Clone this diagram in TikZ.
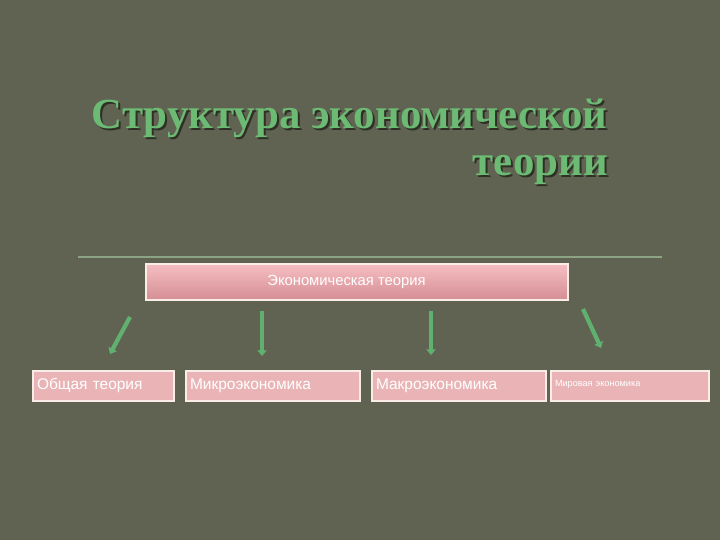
\documentclass[tikz,border=0pt]{standalone}
\usepackage{fontspec}
\setmainfont{Liberation Serif}
\setsansfont{Liberation Sans}
\usetikzlibrary{arrows.meta}
\definecolor{bgcol}{RGB}{96,99,82}
\definecolor{titlegreen}{RGB}{108,186,116}
\definecolor{shadowcol}{RGB}{45,48,36}
\definecolor{rulecol}{RGB}{140,164,132}
\definecolor{arrowgreen}{RGB}{96,176,112}
\definecolor{pinktop}{RGB}{246,190,194}
\definecolor{pinkbot}{RGB}{212,142,148}
\definecolor{pinkbox}{RGB}{234,180,182}
\definecolor{edgecol}{RGB}{250,236,230}

\begin{document}
\begin{tikzpicture}[
            x=0.025cm, y=-0.025cm,
            title/.style={font=\fontsize{30.5}{34}\selectfont\bfseries, anchor=base east, inner sep=0pt},
            topbox/.style={draw=edgecol, line width=1pt, top color=pinktop, bottom color=pinkbot,
                minimum width=422*0.025cm, minimum height=36*0.025cm,
                text=white, font=\sffamily\fontsize{10.5}{12}\selectfont},
            subbox/.style={draw=edgecol, line width=1pt, fill=pinkbox, minimum height=30*0.025cm,
                inner xsep=4*0.025cm, align=left, text height=8pt, text depth=2.5pt,
                text=white, font=\sffamily\fontsize{11}{12}\selectfont},
            arrow/.style={draw=arrowgreen, line width=3pt, -{Triangle[length=4pt,width=6.5pt]}}
        ]
        % Background
        \fill[bgcol] (0,0) rectangle (720,540);
        \useasboundingbox (0,0) rectangle (720,540);

        % Title (with shadow)
        \node[title, text=shadowcol] (title_sh1) at (610,130) {Структура экономической};
        \node[title, text=titlegreen] (title1) at (608,128) {Структура экономической};
        \node[title, text=shadowcol] (title_sh2) at (610,177) {теории};
        \node[title, text=titlegreen] (title2) at (608,175) {теории};

        % Rule
        \coordinate (rule_l) at (78,257);
        \coordinate (rule_r) at (662,257);
        \draw[rulecol, line width=0.8pt] (rule_l) -- (rule_r);

        % Top box
        \node[topbox] (econ) at (357,282) {\hspace*{-15pt}Экономическая теория};

        % Lower boxes
        \node[subbox, text width=133*0.025cm] (general) at (103.5,386) {Общая теория};
        \node[subbox, text width=166*0.025cm] (micro) at (273,386) {Микроэкономика};
        \node[subbox, text width=166*0.025cm] (macro) at (459,386) {Макроэкономика};
        \node[subbox, text width=150*0.025cm, text height=6pt, text depth=5pt,
            font=\sffamily\fontsize{6.5}{8}\selectfont] (world) at (630,386) {Мировая экономика};

        % Arrows
        \coordinate (a1s) at (130,317);
        \coordinate (a1e) at (110,354);
        \coordinate (a2s) at (262,311);
        \coordinate (a2e) at (262,356);
        \coordinate (a3s) at (431,311);
        \coordinate (a3e) at (431,355);
        \coordinate (a4s) at (583,309);
        \coordinate (a4e) at (601,348);

        \draw[arrow] (a1s) -- (a1e);
        \draw[arrow] (a2s) -- (a2e);
        \draw[arrow] (a3s) -- (a3e);
        \draw[arrow] (a4s) -- (a4e);

    \end{tikzpicture}
\end{document}
